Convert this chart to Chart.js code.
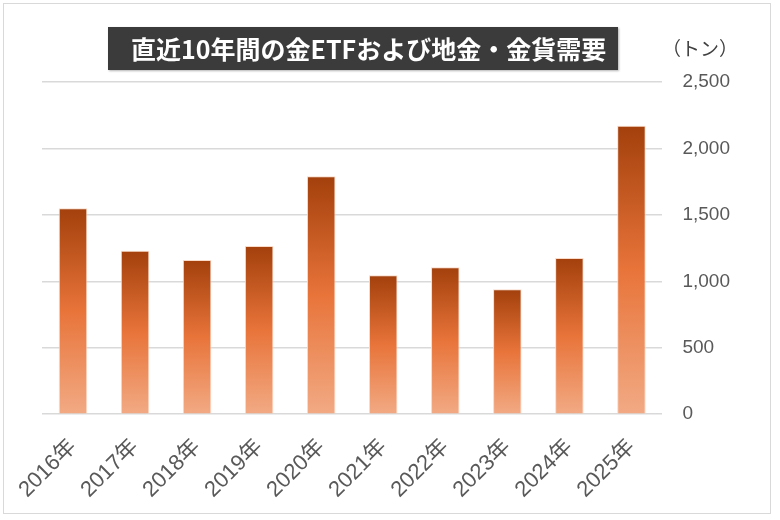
<!DOCTYPE html>
<html>
<head>
<meta charset="utf-8">
<script src="https://cdn.jsdelivr.net/npm/chart.js@4"></script>
<style>
  html, body { margin: 0; padding: 0; background: #fff; }
  #wrap { position: relative; width: 780px; height: 520px; }
  #frame { position: absolute; left: 3px; top: 3px; width: 768px; height: 511px; border: 1px solid #d9d9d9; box-sizing: border-box; }
  #ttl { position: absolute; left: 108px; top: 27px; width: 510px; height: 43px; background: #3b3b3b;
         color: #fff; font: bold 25px "Noto Sans CJK JP", sans-serif; line-height: 43px; text-indent: 23px;
         box-shadow: 1px 1px 2px rgba(0,0,0,0.3); white-space: nowrap; }
  #unit { position: absolute; left: 662px; top: 34px; color: #404040; font: 19px "Noto Sans CJK JP", sans-serif; }
</style>
</head>
<body>
<div id="wrap">
  <canvas id="graf" width="780" height="520"></canvas>
  <div id="frame"></div>
  <div id="ttl">直近10年間の金ETFおよび地金・金貨需要</div>
  <div id="unit">（トン）</div>
</div>
<script>
// データ ----------------------------------------
const years = ['2016年', '2017年', '2018年', '2019年', '2020年', '2021年', '2022年', '2023年', '2024年', '2025年'];
const demand = [1550, 1230, 1160, 1265, 1790, 1045, 1105, 940, 1175, 2170];
const yTicks = [0, 500, 1000, 1500, 2000, 2500];

// 棒ごとのグラデーション
function barGradient(ctx) {
  const chart = ctx.chart;
  if (!chart.chartArea || ctx.type !== 'data') return '#e8733a';
  const y = chart.scales.y;
  const top = y.getPixelForValue(ctx.parsed.y);
  const base = y.getPixelForValue(0);
  const g = chart.ctx.createLinearGradient(0, top, 0, base);
  g.addColorStop(0, '#a3400c');
  g.addColorStop(0.5, '#e8743a');
  g.addColorStop(1, '#f2aa84');
  return g;
}

const family = '"Liberation Sans", "Noto Sans CJK JP", sans-serif';

new Chart(document.getElementById('graf'), {
  type: 'bar',
  data: {
    labels: years,
    datasets: [{
      data: demand,
      backgroundColor: barGradient,
      borderColor: 'rgba(250, 215, 195, 0.9)',
      borderWidth: 1,
      categoryPercentage: 1,
      barPercentage: 0.46
    }]
  },
  options: {
    responsive: false,
    animation: false,
    layout: { padding: { left: 42, right: 30, top: 82, bottom: 5 } },
    plugins: { legend: { display: false }, tooltip: { enabled: false } },
    scales: {
      x: {
        grid: { display: false },
        border: { display: false },
        ticks: { color: '#595959', font: { family: family, size: 22 }, minRotation: 45, maxRotation: 45, padding: 12 }
      },
      y: {
        position: 'right',
        min: 0,
        max: 2500,
        afterBuildTicks: (axis) => { axis.ticks = yTicks.map(v => ({ value: v })); },
        grid: { color: '#d9d9d9', lineWidth: 1.5, drawTicks: false },
        border: { display: false },
        ticks: { color: '#595959', font: { family: family, size: 19 }, padding: 20,
                 callback: (v) => v.toLocaleString('en-US') }
      }
    }
  }
});
</script>
</body>
</html>
